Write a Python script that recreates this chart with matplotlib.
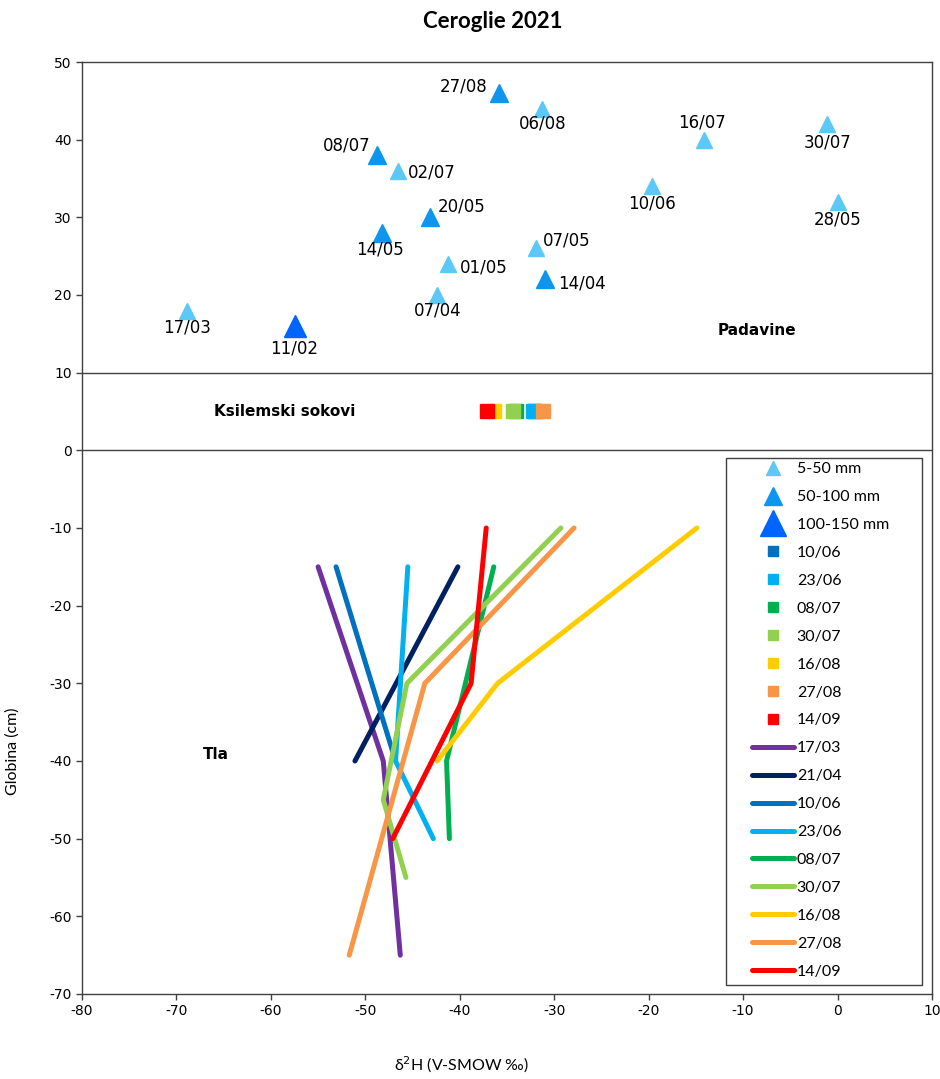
import matplotlib.pyplot as plt
from matplotlib.lines import Line2D
from matplotlib.patches import Rectangle

plt.rcParams['axes.unicode_minus'] = False

# precipitation (Padavine): d2H, height on chart, date label, size class
rain_x = [-35.9, -31.3, -48.8, -46.5, -43.2, -48.2, -31.9, -41.2, -31.0, -42.4,
          -68.9, -57.5, -14.1, -1.1, -19.6, 0.0]
rain_y = [46, 44, 38, 36, 30, 28, 26, 24, 22, 20, 18, 16, 40, 42, 34, 32]
rain_lbl = ['27/08', '06/08', '08/07', '02/07', '20/05', '14/05', '07/05', '01/05',
            '14/04', '07/04', '17/03', '11/02', '16/07', '30/07', '10/06', '28/05']
rain_cls = [1, 0, 1, 0, 1, 1, 0, 0, 1, 0, 0, 2, 0, 0, 0, 0]
# label offsets in pixels (dx, dy up)
rain_off = [(-35, 7), (1, -15), (-30, 10), (33, -2), (32, 11), (-2, -17), (30, 8), (35, -4),
            (37, -4), (1, -16), (0, -17), (0, -22), (-2, 17), (0, -18), (0, -17), (0, -18)]

cls_names = ['5-50 mm', '50-100 mm', '100-150 mm']
cls_col = ['#5BC8F8', '#0C96F0', '#0064FF']
cls_size = [11, 13, 16]
cls_leg_size = [9.5, 13, 18.5]

# xylem sap (Ksilemski sokovi)
sap_dates = ['10/06', '23/06', '08/07', '30/07', '16/08', '27/08', '14/09']
sap_x = [-32.0, -32.2, -34.0, -34.4, -36.4, -31.2, -37.1]
sap_col = ['#0070C0', '#00B0F0', '#00B050', '#92D050', '#FFCC00', '#F79646', '#FF0000']

# soil (Tla) profiles
soil_dates = ['17/03', '21/04', '10/06', '23/06', '08/07', '30/07', '16/08', '27/08', '14/09']
soil_depth = [[-15, -40, -65], [-15, -40], [-15, -40], [-15, -40, -50], [-15, -40, -50],
              [-10, -30, -45, -55], [-10, -30, -40], [-10, -30, -65], [-10, -30, -50]]
soil_val = [[-55.0, -48.1, -46.3], [-40.2, -51.1], [-53.1, -46.8], [-45.5, -46.8, -42.8],
            [-36.4, -41.4, -41.1], [-29.3, -45.6, -48.1, -45.7], [-14.9, -36.0, -42.4],
            [-27.9, -43.7, -51.7], [-37.2, -38.8, -47.1]]
soil_col = ['#7030A0', '#002060', '#0070C0', '#00B0F0', '#00B050', '#92D050', '#FFCC00',
            '#F79646', '#FF0000']

fig = plt.figure(figsize=(9.4, 10.79), dpi=100)
ax = fig.add_axes([82/940, 1-994/1079, 850/940, 932/1079])

for x, y, lbl, c, off in zip(rain_x, rain_y, rain_lbl, rain_cls, rain_off):
    ax.plot(x, y, marker='^', ms=cls_size[c], color=cls_col[c], ls='none', zorder=3)
    ax.annotate(lbl, (x, y), xytext=off, textcoords='offset pixels', ha='center',
                va='center', fontsize=12, family='DejaVu Sans')

for x, c in zip(sap_x, sap_col):
    ax.plot(x, 5, marker='s', ms=9.5, color=c, ls='none', zorder=3)

for d, v, c in zip(soil_depth, soil_val, soil_col):
    ax.plot(v, d, color=c, lw=3.6, solid_capstyle='round', solid_joinstyle='round', zorder=2)

ax.axhline(10, color='#404040', lw=1, zorder=1)
ax.axhline(0, color='#404040', lw=1, zorder=1)

ax.text(-8.5, 15.4, 'Padavine', fontsize=11, fontweight='bold', ha='center', va='center')
ax.text(-58.5, 5, 'Ksilemski sokovi', fontsize=11, fontweight='bold', ha='center', va='center')
ax.text(-65.8, -39.2, 'Tla', fontsize=11, fontweight='bold', ha='center', va='center')

ax.set_xlim(-80, 10)
ax.set_ylim(-70, 50)
ax.set_xticks(range(-80, 11, 10))
ax.set_yticks(range(-70, 51, 10))
ax.tick_params(direction='out', length=4, width=1, color='#404040', labelsize=10)
for s in ax.spines.values():
    s.set_color('#404040')
    s.set_linewidth(1)

ax.set_xlabel('δ$^2$H (V-SMOW ‰)', family='Lato', fontsize=11.5)
ax.xaxis.set_label_coords(0.447, -0.065)
ax.set_ylabel('Globina (cm)', family='Lato', fontsize=11.5)
ax.yaxis.set_label_coords(-0.073, 0.26)

fig.text(493/940, 1-22/1079, 'Ceroglie 2021', family='Lato', fontweight='bold',
         fontsize=16, ha='center', va='center')

handles, labels = [], []
for n, c, s in zip(cls_names, cls_col, cls_leg_size):
    handles.append(Line2D([], [], marker='^', ms=s, color=c, ls='none'))
    labels.append(n)
for n, c in zip(sap_dates, sap_col):
    handles.append(Line2D([], [], marker='s', ms=7, color=c, ls='none'))
    labels.append(n)
for n, c in zip(soil_dates, soil_col):
    handles.append(Line2D([], [], color=c, lw=3.6, solid_capstyle='round'))
    labels.append(n)

# legend frame drawn as its own box, entries placed inside it
ax.add_patch(Rectangle(((726-82)/850, (994-985)/932), (922-726)/850, (985-458)/932,
                       transform=ax.transAxes, fill=True, facecolor='white',
                       edgecolor='#404040', lw=1, zorder=4))
leg = ax.legend(handles, labels, loc='upper left', bbox_to_anchor=((752-82)/850, (994-462)/932),
                borderaxespad=0, prop={'family': 'Lato', 'size': 11.5}, labelspacing=0.86,
                handlelength=2.6, handletextpad=0.2, borderpad=0, frameon=False,
                markerscale=1)
leg.set_zorder(5)

fig.savefig('out.png', dpi=100)
